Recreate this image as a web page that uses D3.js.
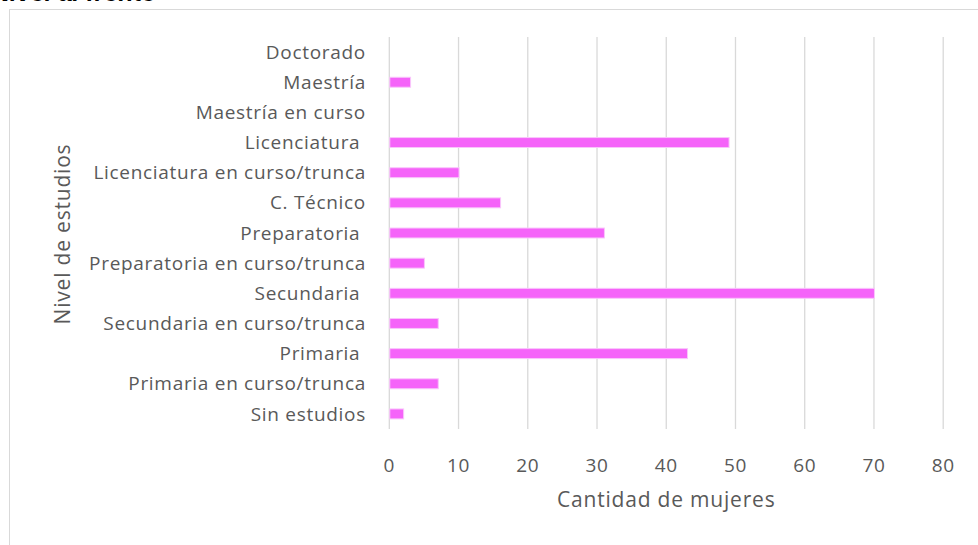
<!DOCTYPE html>
<html>
<head>
<meta charset="utf-8">
<script src="https://cdn.jsdelivr.net/npm/d3@7"></script>
<style>
  html, body { margin: 0; padding: 0; background: #fff; }
  svg { display: block; }
  text { white-space: pre; }
</style>
</head>
<body>
<svg id="chart"></svg>
<script>
// Datos (de arriba hacia abajo)
const niveles = [
  'Doctorado', 'Maestría', 'Maestría en curso', 'Licenciatura ',
  'Licenciatura en curso/trunca', 'C. Técnico', 'Preparatoria ',
  'Preparatoria en curso/trunca', 'Secundaria ', 'Secundaria en curso/trunca',
  'Primaria ', 'Primaria en curso/trunca', 'Sin estudios'
];
const mujeres = [0, 3, 0, 49, 10, 16, 31, 5, 70, 7, 43, 7, 2];
const ticksX = [0, 10, 20, 30, 40, 50, 60, 70, 80];

const W = 978, H = 545;
const plot = { left: 389.3, right: 943.2, top: 37, bottom: 429 };
const GRAY = '#595959';
const FONT = '"Open Sans", sans-serif';

const svg = d3.select('#chart').attr('width', W).attr('height', H);

// Borde del área del gráfico
svg.append('rect')
  .attr('x', 9.5).attr('y', 9.5)
  .attr('width', W + 20).attr('height', H + 20)
  .attr('fill', '#fff')
  .attr('stroke', '#d9d9d9')
  .attr('stroke-width', 1);

// Título cortado arriba (sólo se ve la parte inferior)
svg.append('text')
  .attr('x', -8).attr('y', 0.5)
  .attr('font-family', '"Liberation Sans", sans-serif')
  .attr('font-size', 25)
  .attr('font-weight', 'bold')
  .attr('font-style', 'italic')
  .attr('fill', '#000')
  .text('Nivel al frente');

const x = d3.scaleLinear().domain([0, 80]).range([plot.left, plot.right]);
const y = d3.scaleBand().domain(niveles).range([plot.top, plot.bottom]).padding(0);

// Líneas de cuadrícula
svg.append('g')
  .selectAll('line')
  .data(ticksX)
  .join('line')
  .attr('x1', d => x(d)).attr('x2', d => x(d))
  .attr('y1', plot.top).attr('y2', plot.bottom)
  .attr('stroke', '#d9d9d9')
  .attr('stroke-width', 1.3);

// Barras
const barH = y.bandwidth() * 0.33;
svg.append('g')
  .selectAll('rect')
  .data(niveles.map((n, i) => ({ nivel: n, valor: mujeres[i] })).filter(d => d.valor > 0))
  .join('rect')
  .attr('x', x(0) + 0.5)
  .attr('y', d => y(d.nivel) + (y.bandwidth() - barH) / 2)
  .attr('width', d => x(d.valor) - x(0))
  .attr('height', barH)
  .attr('fill', '#f563f9')
  .attr('stroke', '#f9c6fb')
  .attr('stroke-width', 1);

// Etiquetas de categorías
svg.append('g')
  .selectAll('text')
  .data(niveles)
  .join('text')
  .attr('x', 366)
  .attr('y', d => y(d) + y.bandwidth() / 2)
  .attr('dy', '0.35em')
  .attr('text-anchor', 'end')
  .attr('font-family', FONT)
  .attr('font-size', 19)
  .attr('letter-spacing', 0.7)
  .attr('fill', GRAY)
  .text(d => d);

// Etiquetas del eje X
svg.append('g')
  .selectAll('text')
  .data(ticksX)
  .join('text')
  .attr('x', d => x(d))
  .attr('y', 465)
  .attr('dy', '0.35em')
  .attr('text-anchor', 'middle')
  .attr('font-family', FONT)
  .attr('font-size', 19)
  .attr('letter-spacing', 0.7)
  .attr('fill', GRAY)
  .text(d => d);

// Títulos de ejes
svg.append('text')
  .attr('x', (plot.left + plot.right) / 2)
  .attr('y', 500)
  .attr('dy', '0.35em')
  .attr('text-anchor', 'middle')
  .attr('font-family', FONT)
  .attr('font-size', 21)
  .attr('letter-spacing', 0.8)
  .attr('fill', GRAY)
  .text('Cantidad de mujeres');

svg.append('text')
  .attr('transform', `translate(63, ${(plot.top + plot.bottom) / 2 + 1}) rotate(-90)`)
  .attr('dy', '0.35em')
  .attr('text-anchor', 'middle')
  .attr('font-family', FONT)
  .attr('font-size', 21)
  .attr('letter-spacing', 0.8)
  .attr('fill', GRAY)
  .text('Nivel de estudios');
</script>
</body>
</html>
